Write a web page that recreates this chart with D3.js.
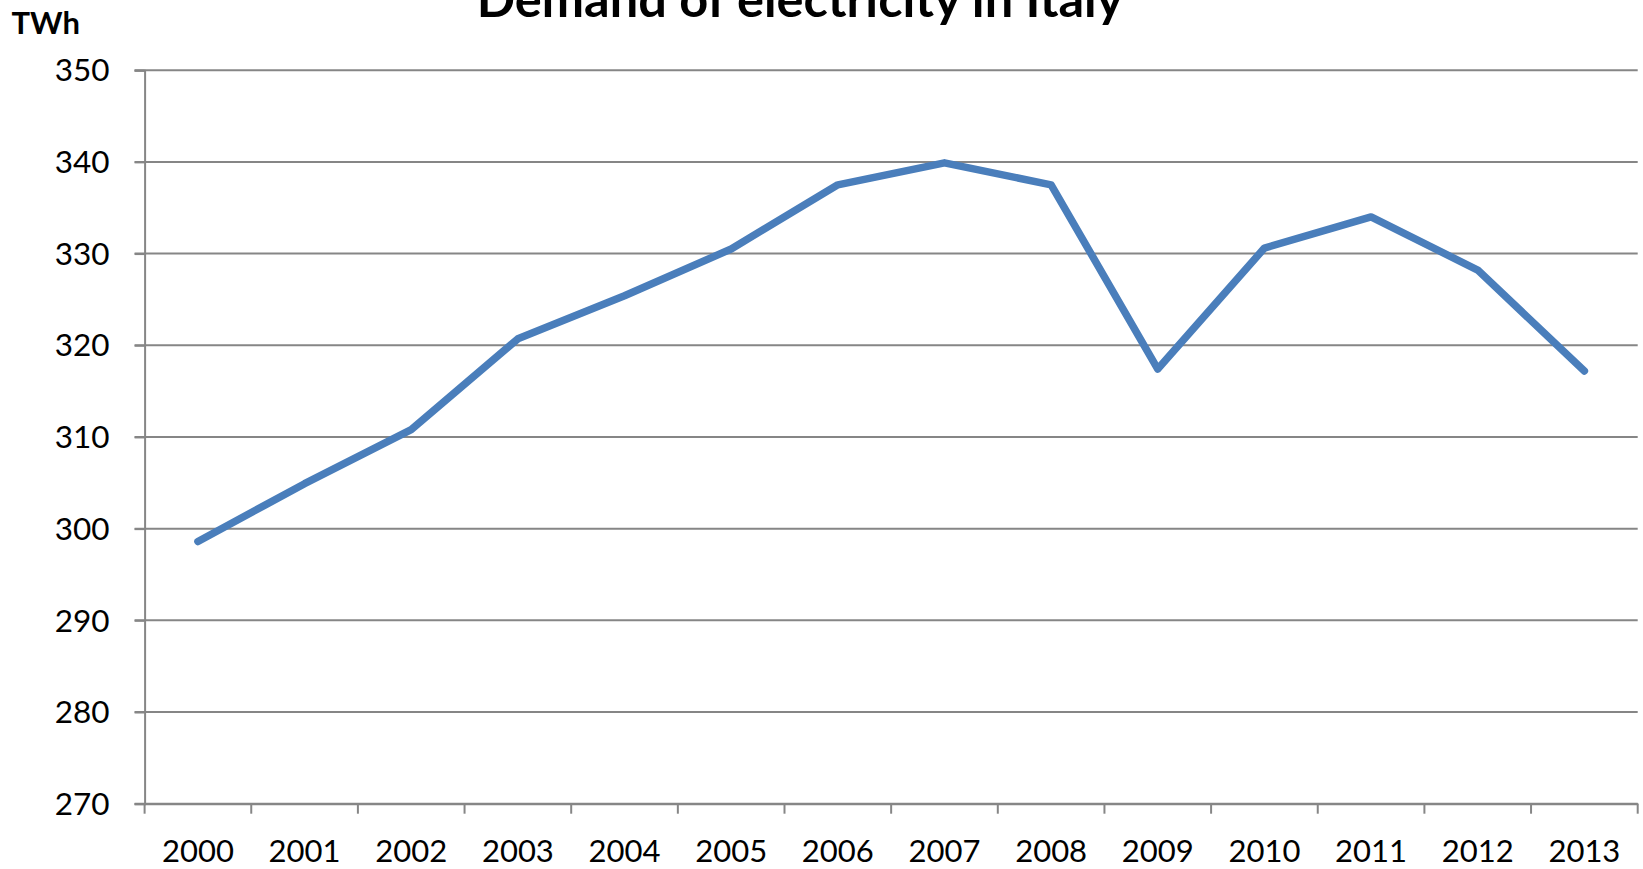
<!DOCTYPE html>
<html>
<head>
<meta charset="utf-8">
<script src="https://cdn.jsdelivr.net/npm/d3@7"></script>
<style>
  html, body { margin: 0; padding: 0; background: #fff; }
  svg { display: block; }
  text { font-family: Lato, "Liberation Sans", sans-serif; fill: #000; }
</style>
</head>
<body>
<svg id="chart" width="1643" height="869"></svg>
<script>
// Annual electricity demand in Italy, TWh
const years = ["2000","2001","2002","2003","2004","2005","2006","2007","2008","2009","2010","2011","2012","2013"];
const demand = [298.6, 304.9, 310.8, 320.7, 325.4, 330.5, 337.5, 339.9, 337.5, 317.4, 330.6, 334.0, 328.2, 317.2];
const yTicks = [270, 280, 290, 300, 310, 320, 330, 340, 350];

const svg = d3.select("#chart");
const W = 1643, H = 869;
const margin = { left: 144.6, right: W - 1637.7, top: 70.2, bottom: H - 803.7 };

const x = d3.scaleBand().domain(years).range([margin.left, W - margin.right]);
const y = d3.scaleLinear().domain([270, 350]).range([H - margin.bottom, margin.top]);

const gridColor = "#868686";

// horizontal gridlines
svg.append("g")
  .selectAll("line")
  .data(yTicks)
  .join("line")
  .attr("x1", margin.left - 10)
  .attr("x2", W - margin.right)
  .attr("y1", d => y(d))
  .attr("y2", d => y(d))
  .attr("stroke", gridColor)
  .attr("stroke-width", 2);

// y axis
const yAxis = svg.append("g")
  .attr("transform", `translate(${margin.left},0)`)
  .call(d3.axisLeft(y).tickValues(yTicks).tickSize(10).tickPadding(25));
yAxis.select(".domain").attr("stroke", gridColor).attr("stroke-width", 2);
yAxis.selectAll(".tick line").attr("stroke", gridColor).attr("stroke-width", 2);
yAxis.selectAll(".tick text")
  .attr("font-size", 31.5)
  .attr("font-family", "Lato, sans-serif")
  .attr("dy", "0.34em")
  .attr("fill", "#000");

// x axis, ticks sit on the category boundaries
const xAxis = svg.append("g")
  .attr("transform", `translate(0,${H - margin.bottom})`)
  .call(d3.axisBottom(x).tickSize(0).tickPadding(36));
xAxis.select(".domain").attr("stroke", gridColor).attr("stroke-width", 2);
xAxis.selectAll(".tick text")
  .attr("font-size", 31)
  .attr("font-family", "Lato, sans-serif")
  .attr("fill", "#000");

const bounds = years.map(d => x(d)).concat([x(years[years.length - 1]) + x.bandwidth()]);
svg.append("g")
  .selectAll("line")
  .data(bounds)
  .join("line")
  .attr("x1", d => d).attr("x2", d => d)
  .attr("y1", H - margin.bottom)
  .attr("y2", H - margin.bottom + 10)
  .attr("stroke", gridColor)
  .attr("stroke-width", 2);

// demand line
const line = d3.line()
  .x((d, i) => x(years[i]) + x.bandwidth() / 2)
  .y(d => y(d));
svg.append("path")
  .datum(demand)
  .attr("d", line)
  .attr("fill", "none")
  .attr("stroke", "#4a7ebb")
  .attr("stroke-width", 7.5)
  .attr("stroke-linejoin", "round")
  .attr("stroke-linecap", "round");

// title and unit label
svg.append("text")
  .attr("x", 800)
  .attr("y", 16.5)
  .attr("text-anchor", "middle")
  .attr("font-size", 50.5)
  .attr("font-weight", "bold")
  .text("Demand of electricity in Italy");

svg.append("text")
  .attr("x", 11.5)
  .attr("y", 34)
  .attr("font-size", 31)
  .attr("font-weight", "bold")
  .text("TWh");
</script>
</body>
</html>
